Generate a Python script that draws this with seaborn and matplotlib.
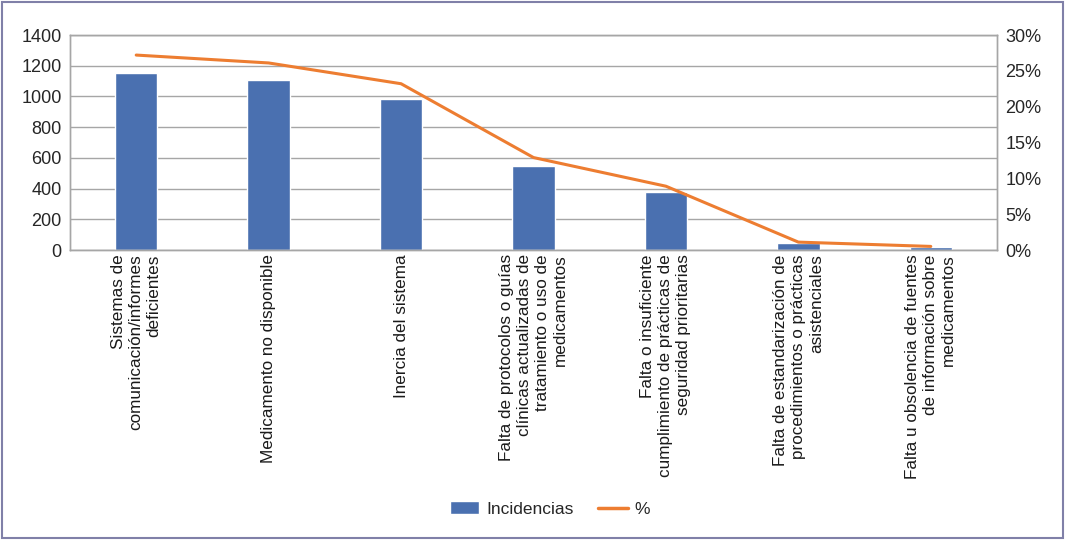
import numpy as np
import pandas as pd
import matplotlib
matplotlib.use("Agg")
import matplotlib.pyplot as plt
import seaborn as sns
from matplotlib.patches import Patch
from matplotlib.lines import Line2D

# ── Data ─────────────────────────────────────────────────────────────────
categories = [
    "Sistemas de\ncomunicación/informes\ndeficientes",
    "Medicamento no disponible",
    "Inercia del sistema",
    "Falta de protocolos o guías\nclínicas actualizadas de\ntratamiento o uso de\nmedicamentos",
    "Falta o insuficiente\ncumplimiento de prácticas de\nseguridad prioritarias",
    "Falta de estandarización de\nprocedimientos o prácticas\nasistenciales",
    "Falta u obsolencia de fuentes\nde información sobre\nmedicamentos",
]
incidencias = [1153, 1107, 983, 547, 378, 46, 20]
porcentaje = [27.2, 26.1, 23.2, 12.9, 8.9, 1.1, 0.5]

bar_color = "#4a70b0"
line_color = "#ed7d31"
grid_color = "#a6a6a6"

sns.set_theme(style="white")
plt.rcParams["font.family"] = ["Liberation Sans", "DejaVu Sans"]

df = pd.DataFrame({"cat": categories, "inc": incidencias, "pct": porcentaje})

fig = plt.figure(figsize=(10.65, 5.4), dpi=100)
ax = fig.add_axes([70 / 1065, 1 - 250 / 540, 927 / 1065, 215 / 540])

sns.barplot(data=df, x="cat", y="inc", color=bar_color, width=0.32,
            saturation=1, ax=ax)
ax.set_xlim(-0.5, 6.5)
ax.set_ylim(0, 1400)
ax.set_yticks(range(0, 1401, 200))
ax.yaxis.grid(True, color=grid_color, lw=1)
ax.set_axisbelow(True)
ax.set_xlabel(""); ax.set_ylabel("")
for s in ax.spines.values():
    s.set_color(grid_color); s.set_linewidth(1)
ax.tick_params(axis="y", length=0, labelsize=13, pad=6, colors="#262626")
ax.tick_params(axis="x", length=0, labelsize=12.3, pad=3, colors="#1a1a1a")
ax.set_xticks(range(len(categories)))
ax.set_xticklabels(categories, rotation=90, ha="center", va="top",
                   multialignment="right", linespacing=1.25)

ax2 = ax.twinx()
sns.lineplot(x=np.arange(len(porcentaje)), y=porcentaje, color=line_color,
             lw=2.2, ax=ax2)
ax2.set_ylim(0, 30)
ax2.set_yticks(range(0, 31, 5))
ax2.set_yticklabels([f"{v}%" for v in range(0, 31, 5)])
ax2.tick_params(axis="y", length=0, labelsize=13, pad=6, colors="#262626")
for s in ax2.spines.values():
    s.set_color(grid_color); s.set_linewidth(1)
ax2.set_xlim(-0.5, 6.5)

handles = [Patch(facecolor=bar_color, label="Incidencias"),
           Line2D([0], [0], color=line_color, lw=2.5, label="%")]
fig.legend(handles=handles, loc="center", bbox_to_anchor=(550 / 1065, 1 - 509 / 540),
           ncol=2, frameon=False, fontsize=12.5, handlelength=1.7,
           handleheight=0.8, columnspacing=1.4, handletextpad=0.4)

fig.patches.append(plt.Rectangle((0.002, 0.003), 0.996, 0.994, transform=fig.transFigure,
                                 fill=False, edgecolor="#8080a8", lw=1.5))

plt.savefig("out.png", dpi=100)
plt.close()
